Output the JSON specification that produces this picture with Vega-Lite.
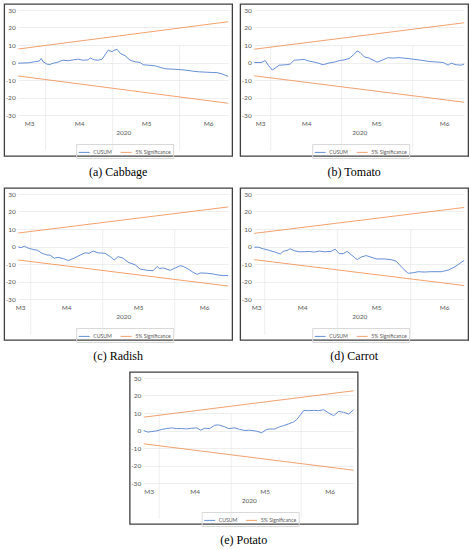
{
"$schema": "https://vega.github.io/schema/vega-lite/v6.json",
"padding": {"left": 3, "top": 3, "right": 0, "bottom": 0},
"background": "white",
"datasets": {
"a": [
{"t":0,"v":-0.4,"s":"CUSUM","l":"c"},{"t":10,"v":-0.2,"s":"CUSUM","l":"c"},{"t":17,"v":0.5,"s":"CUSUM","l":"c"},{"t":21,"v":0.8,"s":"CUSUM","l":"c"},{"t":23,"v":2.3,"s":"CUSUM","l":"c"},{"t":25,"v":0.4,"s":"CUSUM","l":"c"},{"t":29,"v":-1,"s":"CUSUM","l":"c"},{"t":32,"v":-1.1,"s":"CUSUM","l":"c"},{"t":35,"v":-0.4,"s":"CUSUM","l":"c"},{"t":39,"v":0,"s":"CUSUM","l":"c"},{"t":42,"v":0.8,"s":"CUSUM","l":"c"},{"t":45,"v":1.3,"s":"CUSUM","l":"c"},{"t":50,"v":1,"s":"CUSUM","l":"c"},{"t":55,"v":1.5,"s":"CUSUM","l":"c"},{"t":60,"v":1.9,"s":"CUSUM","l":"c"},{"t":65,"v":1.3,"s":"CUSUM","l":"c"},{"t":70,"v":1.5,"s":"CUSUM","l":"c"},{"t":72,"v":2.6,"s":"CUSUM","l":"c"},{"t":76,"v":1.5,"s":"CUSUM","l":"c"},{"t":80,"v":1.3,"s":"CUSUM","l":"c"},{"t":84,"v":1.9,"s":"CUSUM","l":"c"},{"t":87,"v":4.5,"s":"CUSUM","l":"c"},{"t":90,"v":7,"s":"CUSUM","l":"c"},{"t":94,"v":6.2,"s":"CUSUM","l":"c"},{"t":96,"v":7,"s":"CUSUM","l":"c"},{"t":99,"v":7.5,"s":"CUSUM","l":"c"},{"t":102,"v":5.3,"s":"CUSUM","l":"c"},{"t":107,"v":3.8,"s":"CUSUM","l":"c"},{"t":112,"v":1.3,"s":"CUSUM","l":"c"},{"t":117,"v":0.4,"s":"CUSUM","l":"c"},{"t":122,"v":0,"s":"CUSUM","l":"c"},{"t":125,"v":-1.3,"s":"CUSUM","l":"c"},{"t":130,"v":-1.5,"s":"CUSUM","l":"c"},{"t":137,"v":-1.9,"s":"CUSUM","l":"c"},{"t":142,"v":-2.8,"s":"CUSUM","l":"c"},{"t":147,"v":-3.6,"s":"CUSUM","l":"c"},{"t":154,"v":-3.8,"s":"CUSUM","l":"c"},{"t":160,"v":-4,"s":"CUSUM","l":"c"},{"t":167,"v":-4.3,"s":"CUSUM","l":"c"},{"t":174,"v":-4.9,"s":"CUSUM","l":"c"},{"t":180,"v":-5.3,"s":"CUSUM","l":"c"},{"t":187,"v":-5.5,"s":"CUSUM","l":"c"},{"t":194,"v":-5.7,"s":"CUSUM","l":"c"},{"t":199,"v":-5.8,"s":"CUSUM","l":"c"},{"t":204,"v":-6.6,"s":"CUSUM","l":"c"},{"t":210,"v":-7.9,"s":"CUSUM","l":"c"},
{"t":0,"v":7.7,"s":"5% Significance","l":"u"},{"t":210,"v":23.3,"s":"5% Significance","l":"u"},
{"t":0,"v":-7.7,"s":"5% Significance","l":"d"},{"t":210,"v":-23.3,"s":"5% Significance","l":"d"}
],
"b": [
{"t":0,"v":0,"s":"CUSUM","l":"c"},{"t":7,"v":0,"s":"CUSUM","l":"c"},{"t":11,"v":1.1,"s":"CUSUM","l":"c"},{"t":14,"v":-1.5,"s":"CUSUM","l":"c"},{"t":18,"v":-4.3,"s":"CUSUM","l":"c"},{"t":22,"v":-2.8,"s":"CUSUM","l":"c"},{"t":25,"v":-1.5,"s":"CUSUM","l":"c"},{"t":32,"v":-1.3,"s":"CUSUM","l":"c"},{"t":36,"v":-0.9,"s":"CUSUM","l":"c"},{"t":40,"v":1.3,"s":"CUSUM","l":"c"},{"t":45,"v":1.5,"s":"CUSUM","l":"c"},{"t":50,"v":1.7,"s":"CUSUM","l":"c"},{"t":55,"v":0.8,"s":"CUSUM","l":"c"},{"t":62,"v":0,"s":"CUSUM","l":"c"},{"t":69,"v":-1.3,"s":"CUSUM","l":"c"},{"t":74,"v":-0.4,"s":"CUSUM","l":"c"},{"t":80,"v":0.2,"s":"CUSUM","l":"c"},{"t":85,"v":1.1,"s":"CUSUM","l":"c"},{"t":90,"v":1.5,"s":"CUSUM","l":"c"},{"t":95,"v":2.3,"s":"CUSUM","l":"c"},{"t":100,"v":4.7,"s":"CUSUM","l":"c"},{"t":103,"v":6.6,"s":"CUSUM","l":"c"},{"t":106,"v":5.7,"s":"CUSUM","l":"c"},{"t":110,"v":3.2,"s":"CUSUM","l":"c"},{"t":115,"v":2.5,"s":"CUSUM","l":"c"},{"t":123,"v":0.2,"s":"CUSUM","l":"c"},{"t":128,"v":1.3,"s":"CUSUM","l":"c"},{"t":134,"v":2.8,"s":"CUSUM","l":"c"},{"t":139,"v":2.5,"s":"CUSUM","l":"c"},{"t":144,"v":2.8,"s":"CUSUM","l":"c"},{"t":150,"v":2.5,"s":"CUSUM","l":"c"},{"t":159,"v":1.9,"s":"CUSUM","l":"c"},{"t":167,"v":1.3,"s":"CUSUM","l":"c"},{"t":175,"v":0.6,"s":"CUSUM","l":"c"},{"t":184,"v":0.2,"s":"CUSUM","l":"c"},{"t":189,"v":0,"s":"CUSUM","l":"c"},{"t":194,"v":-1.5,"s":"CUSUM","l":"c"},{"t":197,"v":-0.4,"s":"CUSUM","l":"c"},{"t":202,"v":-1.3,"s":"CUSUM","l":"c"},{"t":207,"v":-1.5,"s":"CUSUM","l":"c"},{"t":210,"v":-0.9,"s":"CUSUM","l":"c"},
{"t":0,"v":7.6,"s":"5% Significance","l":"u"},{"t":210,"v":22.7,"s":"5% Significance","l":"u"},
{"t":0,"v":-7.6,"s":"5% Significance","l":"d"},{"t":210,"v":-22.7,"s":"5% Significance","l":"d"}
],
"c": [
{"t":0,"v":-0.2,"s":"CUSUM","l":"c"},{"t":3,"v":-0.7,"s":"CUSUM","l":"c"},{"t":6,"v":0.2,"s":"CUSUM","l":"c"},{"t":10,"v":-0.9,"s":"CUSUM","l":"c"},{"t":15,"v":-1.7,"s":"CUSUM","l":"c"},{"t":19,"v":-2.1,"s":"CUSUM","l":"c"},{"t":24,"v":-3.9,"s":"CUSUM","l":"c"},{"t":29,"v":-4.9,"s":"CUSUM","l":"c"},{"t":32,"v":-4.9,"s":"CUSUM","l":"c"},{"t":36,"v":-6.7,"s":"CUSUM","l":"c"},{"t":40,"v":-6.2,"s":"CUSUM","l":"c"},{"t":45,"v":-6.9,"s":"CUSUM","l":"c"},{"t":50,"v":-8,"s":"CUSUM","l":"c"},{"t":55,"v":-6.9,"s":"CUSUM","l":"c"},{"t":62,"v":-4.9,"s":"CUSUM","l":"c"},{"t":67,"v":-3.6,"s":"CUSUM","l":"c"},{"t":71,"v":-3.9,"s":"CUSUM","l":"c"},{"t":75,"v":-2.6,"s":"CUSUM","l":"c"},{"t":80,"v":-3.6,"s":"CUSUM","l":"c"},{"t":87,"v":-3.9,"s":"CUSUM","l":"c"},{"t":92,"v":-5.8,"s":"CUSUM","l":"c"},{"t":96,"v":-7.7,"s":"CUSUM","l":"c"},{"t":100,"v":-5.8,"s":"CUSUM","l":"c"},{"t":105,"v":-6.7,"s":"CUSUM","l":"c"},{"t":110,"v":-9,"s":"CUSUM","l":"c"},{"t":117,"v":-10.5,"s":"CUSUM","l":"c"},{"t":122,"v":-12.9,"s":"CUSUM","l":"c"},{"t":129,"v":-13.6,"s":"CUSUM","l":"c"},{"t":135,"v":-13.8,"s":"CUSUM","l":"c"},{"t":139,"v":-11.4,"s":"CUSUM","l":"c"},{"t":141,"v":-12.5,"s":"CUSUM","l":"c"},{"t":145,"v":-12.3,"s":"CUSUM","l":"c"},{"t":152,"v":-13.6,"s":"CUSUM","l":"c"},{"t":157,"v":-12.3,"s":"CUSUM","l":"c"},{"t":162,"v":-11,"s":"CUSUM","l":"c"},{"t":165,"v":-11.4,"s":"CUSUM","l":"c"},{"t":170,"v":-12.9,"s":"CUSUM","l":"c"},{"t":175,"v":-14.8,"s":"CUSUM","l":"c"},{"t":179,"v":-15.9,"s":"CUSUM","l":"c"},{"t":182,"v":-15.1,"s":"CUSUM","l":"c"},{"t":189,"v":-15.3,"s":"CUSUM","l":"c"},{"t":195,"v":-15.7,"s":"CUSUM","l":"c"},{"t":200,"v":-16.3,"s":"CUSUM","l":"c"},{"t":205,"v":-16.6,"s":"CUSUM","l":"c"},{"t":210,"v":-16.6,"s":"CUSUM","l":"c"},
{"t":0,"v":7.7,"s":"5% Significance","l":"u"},{"t":210,"v":22.6,"s":"5% Significance","l":"u"},
{"t":0,"v":-7.7,"s":"5% Significance","l":"d"},{"t":210,"v":-22.6,"s":"5% Significance","l":"d"}
],
"d": [
{"t":0,"v":-0.4,"s":"CUSUM","l":"c"},{"t":4,"v":-0.4,"s":"CUSUM","l":"c"},{"t":9,"v":-1.3,"s":"CUSUM","l":"c"},{"t":15,"v":-2.2,"s":"CUSUM","l":"c"},{"t":22,"v":-3.4,"s":"CUSUM","l":"c"},{"t":26,"v":-4.3,"s":"CUSUM","l":"c"},{"t":29,"v":-2.8,"s":"CUSUM","l":"c"},{"t":33,"v":-2.2,"s":"CUSUM","l":"c"},{"t":36,"v":-1.3,"s":"CUSUM","l":"c"},{"t":40,"v":-2.4,"s":"CUSUM","l":"c"},{"t":45,"v":-3,"s":"CUSUM","l":"c"},{"t":50,"v":-3,"s":"CUSUM","l":"c"},{"t":55,"v":-2.8,"s":"CUSUM","l":"c"},{"t":60,"v":-3.2,"s":"CUSUM","l":"c"},{"t":65,"v":-2.6,"s":"CUSUM","l":"c"},{"t":70,"v":-3,"s":"CUSUM","l":"c"},{"t":77,"v":-2.8,"s":"CUSUM","l":"c"},{"t":81,"v":-1.5,"s":"CUSUM","l":"c"},{"t":85,"v":-4.1,"s":"CUSUM","l":"c"},{"t":89,"v":-4.1,"s":"CUSUM","l":"c"},{"t":93,"v":-2.8,"s":"CUSUM","l":"c"},{"t":97,"v":-4.7,"s":"CUSUM","l":"c"},{"t":103,"v":-7.5,"s":"CUSUM","l":"c"},{"t":107,"v":-6,"s":"CUSUM","l":"c"},{"t":112,"v":-5.2,"s":"CUSUM","l":"c"},{"t":119,"v":-6.5,"s":"CUSUM","l":"c"},{"t":122,"v":-7.1,"s":"CUSUM","l":"c"},{"t":130,"v":-7.1,"s":"CUSUM","l":"c"},{"t":137,"v":-7.5,"s":"CUSUM","l":"c"},{"t":142,"v":-8.4,"s":"CUSUM","l":"c"},{"t":149,"v":-12.7,"s":"CUSUM","l":"c"},{"t":154,"v":-15.3,"s":"CUSUM","l":"c"},{"t":159,"v":-15,"s":"CUSUM","l":"c"},{"t":164,"v":-14.4,"s":"CUSUM","l":"c"},{"t":170,"v":-14.6,"s":"CUSUM","l":"c"},{"t":177,"v":-14.4,"s":"CUSUM","l":"c"},{"t":187,"v":-14.4,"s":"CUSUM","l":"c"},{"t":194,"v":-13.5,"s":"CUSUM","l":"c"},{"t":200,"v":-11.8,"s":"CUSUM","l":"c"},{"t":205,"v":-9.9,"s":"CUSUM","l":"c"},{"t":210,"v":-7.9,"s":"CUSUM","l":"c"},
{"t":0,"v":7.5,"s":"5% Significance","l":"u"},{"t":210,"v":22.3,"s":"5% Significance","l":"u"},
{"t":0,"v":-7.5,"s":"5% Significance","l":"d"},{"t":210,"v":-22.3,"s":"5% Significance","l":"d"}
],
"e": [
{"t":0,"v":0,"s":"CUSUM","l":"c"},{"t":4,"v":-0.9,"s":"CUSUM","l":"c"},{"t":8,"v":-0.6,"s":"CUSUM","l":"c"},{"t":13,"v":-0.2,"s":"CUSUM","l":"c"},{"t":18,"v":0.6,"s":"CUSUM","l":"c"},{"t":23,"v":1.1,"s":"CUSUM","l":"c"},{"t":28,"v":1.5,"s":"CUSUM","l":"c"},{"t":33,"v":1.1,"s":"CUSUM","l":"c"},{"t":38,"v":1.1,"s":"CUSUM","l":"c"},{"t":43,"v":0.9,"s":"CUSUM","l":"c"},{"t":48,"v":1.3,"s":"CUSUM","l":"c"},{"t":53,"v":1.5,"s":"CUSUM","l":"c"},{"t":57,"v":0.2,"s":"CUSUM","l":"c"},{"t":61,"v":1.3,"s":"CUSUM","l":"c"},{"t":66,"v":1.1,"s":"CUSUM","l":"c"},{"t":71,"v":3,"s":"CUSUM","l":"c"},{"t":75,"v":3.2,"s":"CUSUM","l":"c"},{"t":81,"v":2.1,"s":"CUSUM","l":"c"},{"t":85,"v":1.1,"s":"CUSUM","l":"c"},{"t":91,"v":1.5,"s":"CUSUM","l":"c"},{"t":96,"v":0.6,"s":"CUSUM","l":"c"},{"t":101,"v":0,"s":"CUSUM","l":"c"},{"t":106,"v":0.2,"s":"CUSUM","l":"c"},{"t":113,"v":-0.4,"s":"CUSUM","l":"c"},{"t":118,"v":-1.3,"s":"CUSUM","l":"c"},{"t":123,"v":0.6,"s":"CUSUM","l":"c"},{"t":127,"v":0.9,"s":"CUSUM","l":"c"},{"t":131,"v":0.8,"s":"CUSUM","l":"c"},{"t":135,"v":1.9,"s":"CUSUM","l":"c"},{"t":140,"v":2.8,"s":"CUSUM","l":"c"},{"t":145,"v":3.8,"s":"CUSUM","l":"c"},{"t":150,"v":4.9,"s":"CUSUM","l":"c"},{"t":153,"v":6.2,"s":"CUSUM","l":"c"},{"t":157,"v":9.1,"s":"CUSUM","l":"c"},{"t":160,"v":11.5,"s":"CUSUM","l":"c"},{"t":165,"v":11.3,"s":"CUSUM","l":"c"},{"t":170,"v":11.5,"s":"CUSUM","l":"c"},{"t":175,"v":11.3,"s":"CUSUM","l":"c"},{"t":180,"v":11.9,"s":"CUSUM","l":"c"},{"t":185,"v":10,"s":"CUSUM","l":"c"},{"t":190,"v":8.5,"s":"CUSUM","l":"c"},{"t":195,"v":10.9,"s":"CUSUM","l":"c"},{"t":200,"v":10.4,"s":"CUSUM","l":"c"},{"t":205,"v":9.4,"s":"CUSUM","l":"c"},{"t":210,"v":11.9,"s":"CUSUM","l":"c"},
{"t":0,"v":7.6,"s":"5% Significance","l":"u"},{"t":210,"v":22.7,"s":"5% Significance","l":"u"},
{"t":0,"v":-7.6,"s":"5% Significance","l":"d"},{"t":210,"v":-22.7,"s":"5% Significance","l":"d"}
]
},
"vconcat": [
{
"hconcat": [
{
"width": 228, "height": 152, "title": "(a) Cabbage", "data": {"name": "a"}, "mark": "line",
"encoding": {
"x": {"field": "t", "type": "quantitative", "scale": {"domain": [0, 210], "range": [14, 224], "nice": false, "zero": false},
 "axis": {"values": [27, 94, 161, 11, 61, 128, 190], "labelExpr": "datum.value==11?'M3':datum.value==61?'M4':datum.value==128?'M5':datum.value==190?'M6':''", "gridOpacity": {"condition": {"test": "datum.value==27||datum.value==94||datum.value==161", "value": 1}, "value": 0}, "offset": -41, "title": "2020"}},
"y": {"field": "v", "type": "quantitative", "scale": {"domain": [-30, 30], "range": [111, 6], "nice": false, "zero": false},
 "axis": {"values": [-30, -20, -10, 0, 10, 20, 30], "labelExpr": "'' + datum.value", "offset": -14, "title": null, "labelPadding": 3}},
"color": {"field": "s", "type": "nominal", "scale": {"domain": ["CUSUM", "5% Significance"], "range": ["#5582D0", "#F09660"]}, "legend": {"title": null}},
"detail": {"field": "l"}
}
},
{
"width": 228, "height": 152, "title": "(b) Tomato", "data": {"name": "b"}, "mark": "line",
"encoding": {
"x": {"field": "t", "type": "quantitative", "scale": {"domain": [0, 210], "range": [14, 224], "nice": false, "zero": false},
 "axis": {"values": [16, 87, 158, 6, 52, 122, 190], "labelExpr": "datum.value==6?'M3':datum.value==52?'M4':datum.value==122?'M5':datum.value==190?'M6':''", "gridOpacity": {"condition": {"test": "datum.value==16||datum.value==87||datum.value==158", "value": 1}, "value": 0}, "offset": -41, "title": "2020"}},
"y": {"field": "v", "type": "quantitative", "scale": {"domain": [-30, 30], "range": [111, 6], "nice": false, "zero": false},
 "axis": {"values": [-30, -20, -10, 0, 10, 20, 30], "labelExpr": "'' + datum.value", "offset": -14, "title": null, "labelPadding": 3}},
"color": {"field": "s", "type": "nominal", "scale": {"domain": ["CUSUM", "5% Significance"], "range": ["#5582D0", "#F09660"]}, "legend": {"title": null}},
"detail": {"field": "l"}
}
}
],
"spacing": 6,
"resolve": {"scale": {"color": "independent"}, "legend": {"color": "independent"}}
},
{
"hconcat": [
{
"width": 228, "height": 152, "title": "(c) Radish", "data": {"name": "c"}, "mark": "line",
"encoding": {
"x": {"field": "t", "type": "quantitative", "scale": {"domain": [0, 210], "range": [14, 224], "nice": false, "zero": false},
 "axis": {"values": [12, 84, 156, 2, 48, 120, 186], "labelExpr": "datum.value==2?'M3':datum.value==48?'M4':datum.value==120?'M5':datum.value==186?'M6':''", "gridOpacity": {"condition": {"test": "datum.value==12||datum.value==84||datum.value==156", "value": 1}, "value": 0}, "offset": -41, "title": "2020"}},
"y": {"field": "v", "type": "quantitative", "scale": {"domain": [-30, 30], "range": [111, 6], "nice": false, "zero": false},
 "axis": {"values": [-30, -20, -10, 0, 10, 20, 30], "labelExpr": "'' + datum.value", "offset": -14, "title": null, "labelPadding": 3}},
"color": {"field": "s", "type": "nominal", "scale": {"domain": ["CUSUM", "5% Significance"], "range": ["#5582D0", "#F09660"]}, "legend": {"title": null}},
"detail": {"field": "l"}
}
},
{
"width": 228, "height": 152, "title": "(d) Carrot", "data": {"name": "d"}, "mark": "line",
"encoding": {
"x": {"field": "t", "type": "quantitative", "scale": {"domain": [0, 210], "range": [14, 224], "nice": false, "zero": false},
 "axis": {"values": [10, 83, 156, 2, 48, 122, 190], "labelExpr": "datum.value==2?'M3':datum.value==48?'M4':datum.value==122?'M5':datum.value==190?'M6':''", "gridOpacity": {"condition": {"test": "datum.value==10||datum.value==83||datum.value==156", "value": 1}, "value": 0}, "offset": -41, "title": "2020"}},
"y": {"field": "v", "type": "quantitative", "scale": {"domain": [-30, 30], "range": [111, 6], "nice": false, "zero": false},
 "axis": {"values": [-30, -20, -10, 0, 10, 20, 30], "labelExpr": "'' + datum.value", "offset": -14, "title": null, "labelPadding": 3}},
"color": {"field": "s", "type": "nominal", "scale": {"domain": ["CUSUM", "5% Significance"], "range": ["#5582D0", "#F09660"]}, "legend": {"title": null}},
"detail": {"field": "l"}
}
}
],
"spacing": 6,
"resolve": {"scale": {"color": "independent"}, "legend": {"color": "independent"}}
},
{
"hconcat": [
{
"width": 1, "height": 1, "data": {"values": []}, "mark": "point", "view": {"stroke": null}
},
{
"width": 228, "height": 152, "title": "(e) Potato", "data": {"name": "e"}, "mark": "line",
"encoding": {
"x": {"field": "t", "type": "quantitative", "scale": {"domain": [0, 210], "range": [14, 224], "nice": false, "zero": false},
 "axis": {"values": [15, 87, 157, 5, 51, 121, 186], "labelExpr": "datum.value==5?'M3':datum.value==51?'M4':datum.value==121?'M5':datum.value==186?'M6':''", "gridOpacity": {"condition": {"test": "datum.value==15||datum.value==87||datum.value==157", "value": 1}, "value": 0}, "offset": -41, "title": "2020"}},
"y": {"field": "v", "type": "quantitative", "scale": {"domain": [-30, 30], "range": [111, 6], "nice": false, "zero": false},
 "axis": {"values": [-30, -20, -10, 0, 10, 20, 30], "labelExpr": "'' + datum.value", "offset": -14, "title": null, "labelPadding": 3}},
"color": {"field": "s", "type": "nominal", "scale": {"domain": ["CUSUM", "5% Significance"], "range": ["#5582D0", "#F09660"]}, "legend": {"title": null}},
"detail": {"field": "l"}
}
}
],
"spacing": 13,
"resolve": {"scale": {"color": "independent"}, "legend": {"color": "independent"}}
}
],
"spacing": 8,
"center": true,
"resolve": {"scale": {"color": "independent"}, "legend": {"color": "independent"}},
"config": {
"view": {"stroke": "#404040", "strokeWidth": 1.3},
"line": {"strokeWidth": 0.9},
"axis": {"labelFont": "Lato", "labelFontSize": 6.5, "labelColor": "#595959", "ticks": false, "tickSize": 0, "domain": false, "gridColor": "#e3e3e3", "gridWidth": 0.6, "titleFont": "Lato", "titleFontSize": 6.5, "titleFontWeight": "normal", "titleColor": "#595959", "labelFlush": false, "labelOverlap": false},
"axisX": {"labelPadding": 5, "titlePadding": 3},
"legend": {"orient": "none", "legendX": 72, "legendY": 140, "direction": "horizontal", "symbolSize": 121, "symbolStrokeWidth": 1.2, "labelFont": "Lato", "labelFontSize": 5.2, "labelColor": "#595959", "strokeColor": "#d9d9d9", "padding": 2, "columnPadding": 6, "labelOffset": 3},
"title": {"font": "Liberation Serif", "fontSize": 12, "fontWeight": "normal", "orient": "bottom", "offset": 8, "color": "#000000"}
}
}
